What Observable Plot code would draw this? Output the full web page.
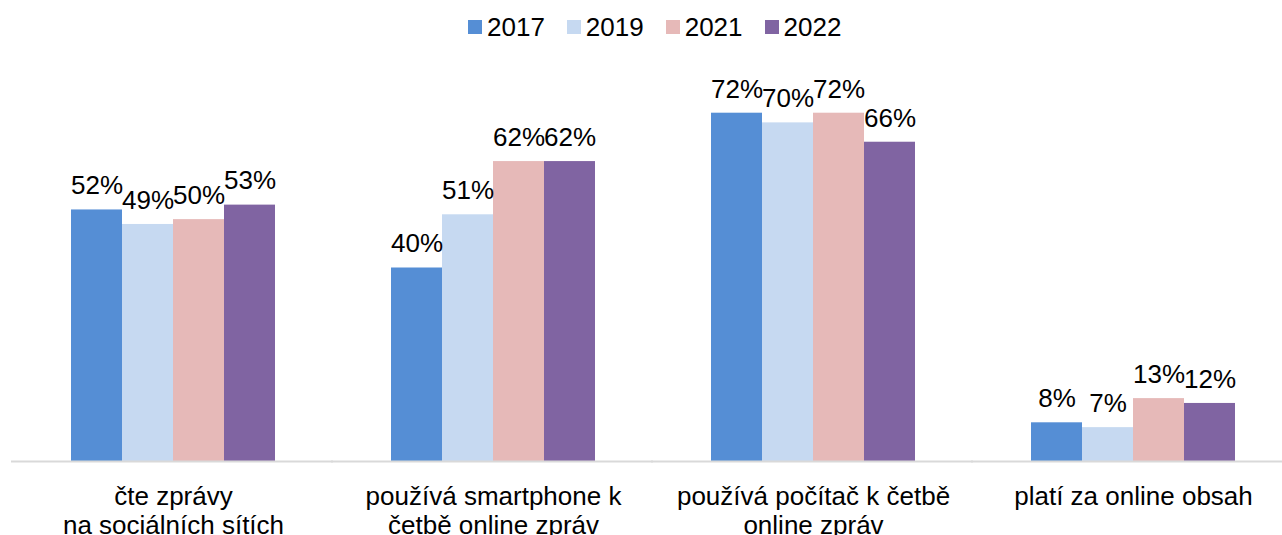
<!DOCTYPE html>
<html><head><meta charset="utf-8">
<script src="https://cdn.jsdelivr.net/npm/d3@7"></script>
<script src="https://cdn.jsdelivr.net/npm/@observablehq/plot@0.6"></script>
<style>
body{margin:0;width:1282px;height:535px;overflow:hidden;background:#fff;font-family:"Liberation Sans",Arial,sans-serif;color:#000}
#legend{height:54px;display:flex;align-items:center;padding-left:468px;gap:22px;box-sizing:border-box}
.item{display:flex;align-items:center;font-size:26px;line-height:26px}
.sw{width:14px;height:14px;margin-right:5px}
#chart{width:1282px;overflow:hidden}
#chart svg{max-width:none !important;width:1295px !important;height:481px !important}
</style></head><body>
<div id="legend"></div><div id="chart"></div>
<script>
const categories = ["čte zprávy\nna sociálních sítích", "používá smartphone k\nčetbě online zpráv", "používá počítač k četbě\nonline zpráv", "platí za online obsah"];
const years = ["2017", "2019", "2021", "2022"];
const colors = ["#558ed5", "#c6d9f1", "#e6b9b8", "#8064a2"];
const v2017 = [52, 40, 72, 8];
const v2019 = [49, 51, 70, 7];
const v2021 = [50, 62, 72, 13];
const v2022 = [53, 62, 66, 12];
const series = [v2017, v2019, v2021, v2022];

const data = [];
categories.forEach((c, i) => years.forEach((y, j) => data.push({category: c, year: y, value: series[j][i]})));

const legend = document.getElementById("legend");
years.forEach((y, j) => {
  const it = document.createElement("div"); it.className = "item";
  const sw = document.createElement("div"); sw.className = "sw"; sw.style.background = colors[j];
  const t = document.createElement("span"); t.textContent = y;
  it.appendChild(sw); it.appendChild(t); legend.appendChild(it);
});

const chart = Plot.plot({
  width: 1295,
  height: 481,
  marginLeft: 12,
  marginRight: 0,
  marginTop: 20,
  marginBottom: 74,
  style: {fontSize: "26px", fontFamily: "'Liberation Sans', Arial, sans-serif", color: "#000", background: "#fff"},
  fx: {domain: categories, paddingInner: 0.355, paddingOuter: 0.1775},
  x: {domain: years, padding: 0, axis: null},
  y: {domain: [0, 80], axis: null},
  color: {domain: years, range: colors},
  marks: [
    Plot.barY(data, {fx: "category", x: "year", y: "value", fill: "year"}),
    Plot.ruleY([0], {stroke: "#d9d9d9", strokeWidth: 2, insetLeft: -59, insetRight: -57}),
    Plot.text(data, {fx: "category", x: "year", y: "value", text: d => d.value + "%", dy: -24, fill: "#000", fontSize: 26}),
    Plot.axisFx({anchor: "bottom", tickSize: 0, tickPadding: 24, label: null, lineHeight: 1.08, fontSize: 26, fill: "#000"})
  ]
});
document.getElementById("chart").appendChild(chart);
</script>
</body></html>
